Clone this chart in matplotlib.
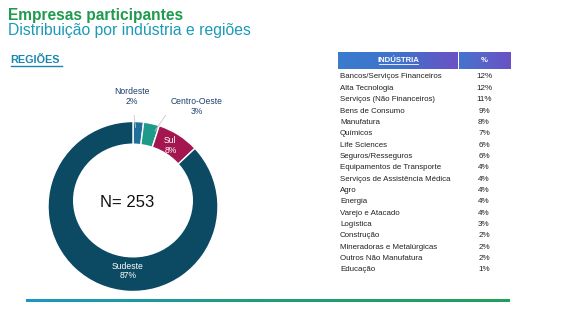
import matplotlib
matplotlib.use("Agg")
import matplotlib.pyplot as plt
import numpy as np
from matplotlib.colors import LinearSegmentedColormap
from matplotlib.patches import Ellipse

plt.rcParams['font.family'] = ['Liberation Sans', 'DejaVu Sans']

# ---------------- data ----------------
regions = ["Nordeste", "Centro-Oeste", "Sul", "Sudeste"]
region_pct = [2, 3, 8, 87]
region_colors = ["#1f6e9c", "#1d9a8a", "#a3164f", "#0b4a62"]
n_total = 253

industries = ["Bancos/Serviços Financeiros", "Alta Tecnologia", "Serviços (Não Financeiros)",
              "Bens de Consumo", "Manufatura", "Químicos", "Life Sciences", "Seguros/Resseguros",
              "Equipamentos de Transporte", "Serviços de Assistência Médica", "Agro", "Energia",
              "Varejo e Atacado", "Logística", "Construção", "Mineradoras e Metalúrgicas",
              "Outros Não Manufatura", "Educação"]
industry_pct = [12, 12, 11, 9, 8, 7, 6, 6, 4, 4, 4, 4, 4, 3, 2, 2, 2, 1]

W, H = 572, 329
fig = plt.figure(figsize=(W / 100, H / 100), dpi=100)

# overlay axes in pixel coordinates
ov = fig.add_axes([0, 0, 1, 1])
ov.set_xlim(0, W)
ov.set_ylim(H, 0)
ov.axis("off")

# titles
ov.text(8, 20, "Empresas participantes", fontsize=11.2, fontweight="bold", color="#1f9a4e", va="baseline")
ov.text(8, 35.5, "Distribuição por indústria e regiões", fontsize=11.3, color="#1a9ab8", va="baseline")
ov.text(10.5, 63, "REGIÕES", fontsize=7.8, fontweight="bold", color="#1a86b0", va="baseline")
ov.plot([10.5, 62], [65.5, 65.5], color="#1a86b0", lw=1)

# bottom gradient line
grad = np.linspace(0, 1, 256).reshape(1, -1)
cm_line = LinearSegmentedColormap.from_list("ln", ["#1a98c4", "#1f9e78", "#22a05a"])
ov.imshow(grad, cmap=cm_line, extent=[26, 510, 302.5, 299.5], aspect="auto", zorder=1)

# table header
cm_h1 = LinearSegmentedColormap.from_list("h1", ["#3a7ccf", "#3f72cc", "#6b52c4"])
cm_h2 = LinearSegmentedColormap.from_list("h2", ["#4474cf", "#5a62c8", "#6a52c4"])
ov.imshow(grad, cmap=cm_h1, extent=[338, 457.5, 69, 52], aspect="auto", zorder=1)
ov.imshow(grad, cmap=cm_h2, extent=[458.5, 510, 69, 52], aspect="auto", zorder=1)
ov.text(398, 62, "INDÚSTRIA", fontsize=5.6, fontweight="bold", color="white", ha="center", va="baseline")
ov.plot([379, 418], [63.8, 63.8], color="white", lw=0.6)
ov.text(484, 62, "%", fontsize=5.6, fontweight="bold", color="white", ha="center", va="baseline")

y0, dy = 77, 11.35
for i, (name, p) in enumerate(zip(industries, industry_pct)):
    y = y0 + i * dy
    ov.text(340, y, name, fontsize=5.7, color="#222222", va="center")
    ov.text(484, y, f"{p}%", fontsize=5.9, color="#222222", va="center", ha="center")

ov.set_xlim(0, W)
ov.set_ylim(H, 0)

# donut
cx, cy, R = 133, 206.5, 85
half = 92
ax = fig.add_axes([(cx - half) / W, (H - cy - half) / H, 2 * half / W, 2 * half / H])
lim = half / R
ax.set_aspect("equal")
ax.axis("off")
ax.pie(region_pct, colors=region_colors, startangle=90, counterclock=False, radius=1.0,
       wedgeprops=dict(edgecolor="white", linewidth=1.0))
# inner hole (slightly offset upward, as in the reference)
ax.add_patch(Ellipse((0, 6.0 / R), 2 * 60 / R, 2 * 57 / R, facecolor="white",
                     edgecolor="none", zorder=4))
ax.set_xlim(-lim, lim)
ax.set_ylim(-lim, lim)

lab_fs = 6.2
ax.text(-0.01, 1.29, f"{regions[0]}\n{region_pct[0]}%", ha="center", va="center",
        fontsize=lab_fs, color="#1f3e6e", linespacing=1.1, zorder=5)
ax.plot([0.0, 0.03], [1.19, 0.93], color="#c8c8c8", lw=0.6, zorder=5)
ax.text(0.75, 1.18, f"{regions[1]}\n{region_pct[1]}%", ha="center", va="center",
        fontsize=lab_fs, color="#1f3e6e", linespacing=1.1, zorder=5)
ax.plot([0.46, 0.26], [1.19, 0.89], color="#c8c8c8", lw=0.6, zorder=5)
ax.text(0.44, 0.72, f"{regions[2]}\n{region_pct[2]}%", ha="center", va="center",
        fontsize=lab_fs, color="white", linespacing=1.1, zorder=5)
ax.text(-0.06, -0.76, f"{regions[3]}\n{region_pct[3]}%", ha="center", va="center",
        fontsize=lab_fs, color="white", linespacing=1.1, zorder=5)
ax.text(-0.065, 0.05, f"N= {n_total}", ha="center", va="center", fontsize=12, color="#111111", zorder=5)

fig.savefig("out.png", dpi=100)
